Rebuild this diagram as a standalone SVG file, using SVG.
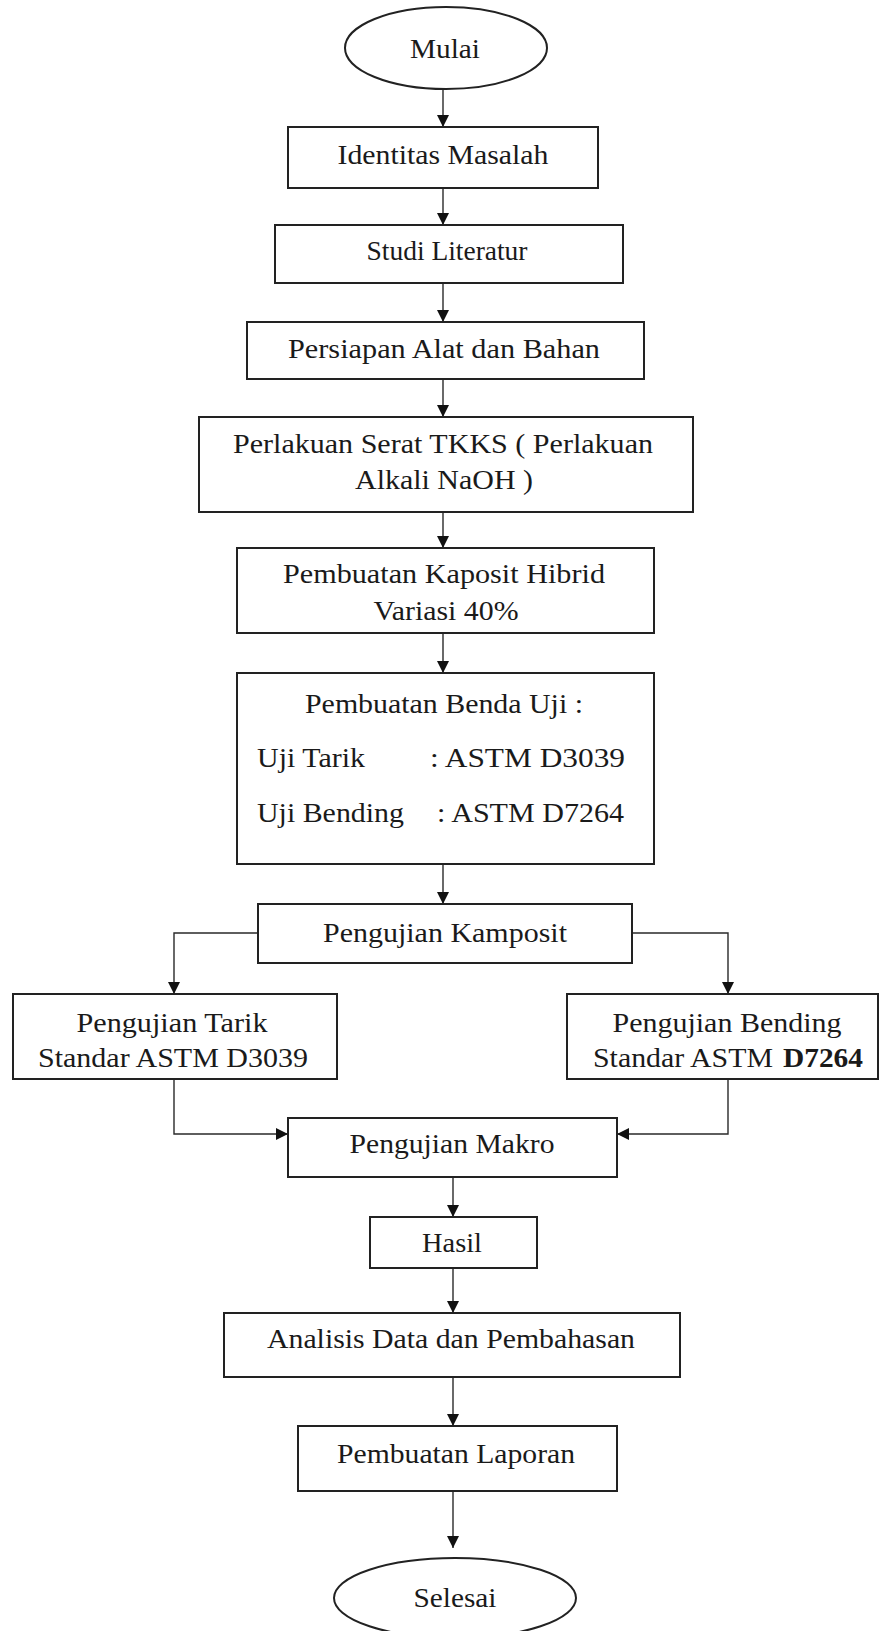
<svg xmlns="http://www.w3.org/2000/svg" width="880" height="1631" viewBox="0 0 880 1631">
<style>
.box{fill:#ffffff;stroke:#222;stroke-width:2}
.t{font-family:"Liberation Serif","Times New Roman",serif;font-size:28px;fill:#1a1a1a;text-anchor:middle}
.tl{font-family:"Liberation Serif","Times New Roman",serif;font-size:28px;fill:#1a1a1a}
.c{fill:none;stroke:#2a2a2a;stroke-width:1.4}
</style>
<defs>
<marker id="ah" viewBox="0 0 12 12" refX="12" refY="6" markerWidth="12" markerHeight="12" markerUnits="userSpaceOnUse" orient="auto">
<path d="M0,0 L12,6 L0,12 Z" fill="#111"/>
</marker>
</defs>
<rect width="880" height="1631" fill="#ffffff"/>
<g id="connectors">
<line class="c" x1="443" y1="89" x2="443" y2="127" marker-end="url(#ah)"/>
<line class="c" x1="443" y1="188" x2="443" y2="225" marker-end="url(#ah)"/>
<line class="c" x1="443" y1="283" x2="443" y2="322" marker-end="url(#ah)"/>
<line class="c" x1="443" y1="379" x2="443" y2="417" marker-end="url(#ah)"/>
<line class="c" x1="443" y1="512" x2="443" y2="548" marker-end="url(#ah)"/>
<line class="c" x1="443" y1="633" x2="443" y2="673" marker-end="url(#ah)"/>
<line class="c" x1="443" y1="864" x2="443" y2="904" marker-end="url(#ah)"/>
<polyline class="c" points="258,933 174,933 174,994" marker-end="url(#ah)"/>
<polyline class="c" points="632,933 728,933 728,994" marker-end="url(#ah)"/>
<polyline class="c" points="174,1079 174,1134 288,1134" marker-end="url(#ah)"/>
<polyline class="c" points="728,1079 728,1134 617,1134" marker-end="url(#ah)"/>
<line class="c" x1="453" y1="1177" x2="453" y2="1217" marker-end="url(#ah)"/>
<line class="c" x1="453" y1="1268" x2="453" y2="1313" marker-end="url(#ah)"/>
<line class="c" x1="453" y1="1377" x2="453" y2="1426" marker-end="url(#ah)"/>
<line class="c" x1="453" y1="1491" x2="453" y2="1548" marker-end="url(#ah)"/>
</g>
<g id="mulai">
<ellipse class="box" cx="446" cy="48" rx="101" ry="41"/>
<text class="t" x="445" y="58" textLength="70" lengthAdjust="spacingAndGlyphs">Mulai</text>
</g>
<g id="identitas">
<rect class="box" x="288" y="127" width="310" height="61"/>
<text class="t" x="443" y="164" textLength="211" lengthAdjust="spacingAndGlyphs">Identitas Masalah</text>
</g>
<g id="studi">
<rect class="box" x="275" y="225" width="348" height="58"/>
<text class="t" x="447" y="260" textLength="161" lengthAdjust="spacingAndGlyphs">Studi Literatur</text>
</g>
<g id="persiapan">
<rect class="box" x="247" y="322" width="397" height="57"/>
<text class="t" x="444" y="358" textLength="312" lengthAdjust="spacingAndGlyphs">Persiapan Alat dan Bahan</text>
</g>
<g id="perlakuan">
<rect class="box" x="199" y="417" width="494" height="95"/>
<text class="t" x="443" y="453" textLength="420" lengthAdjust="spacingAndGlyphs">Perlakuan Serat TKKS ( Perlakuan</text>
<text class="t" x="444" y="489" textLength="178" lengthAdjust="spacingAndGlyphs">Alkali NaOH )</text>
</g>
<g id="kaposit">
<rect class="box" x="237" y="548" width="417" height="85"/>
<text class="t" x="444" y="583" textLength="322" lengthAdjust="spacingAndGlyphs">Pembuatan Kaposit Hibrid</text>
<text class="t" x="446" y="620" textLength="145" lengthAdjust="spacingAndGlyphs">Variasi 40%</text>
</g>
<g id="benda-uji">
<rect class="box" x="237" y="673" width="417" height="191"/>
<text class="t" x="444" y="713" textLength="278" lengthAdjust="spacingAndGlyphs">Pembuatan Benda Uji :</text>
<text class="tl" x="257" y="767" textLength="108" lengthAdjust="spacingAndGlyphs">Uji Tarik</text>
<text class="tl" x="430" y="767" textLength="195" lengthAdjust="spacingAndGlyphs">: ASTM D3039</text>
<text class="tl" x="257" y="822" textLength="147" lengthAdjust="spacingAndGlyphs">Uji Bending</text>
<text class="tl" x="437" y="822" textLength="187" lengthAdjust="spacingAndGlyphs">: ASTM D7264</text>
</g>
<g id="kamposit">
<rect class="box" x="258" y="904" width="374" height="59"/>
<text class="t" x="445" y="942" textLength="244" lengthAdjust="spacingAndGlyphs">Pengujian Kamposit</text>
</g>
<g id="tarik">
<rect class="box" x="13" y="994" width="324" height="85"/>
<text class="t" x="172" y="1032" textLength="191" lengthAdjust="spacingAndGlyphs">Pengujian Tarik</text>
<text class="t" x="173" y="1067" textLength="270" lengthAdjust="spacingAndGlyphs">Standar ASTM D3039</text>
</g>
<g id="bending">
<rect class="box" x="567" y="994" width="311" height="85"/>
<text class="t" x="727" y="1032" textLength="229" lengthAdjust="spacingAndGlyphs">Pengujian Bending</text>
<text class="tl" x="593" y="1067" textLength="180" lengthAdjust="spacingAndGlyphs">Standar ASTM</text>
<text class="tl" x="783" y="1067" font-weight="bold" textLength="80" lengthAdjust="spacingAndGlyphs">D7264</text>
</g>
<g id="makro">
<rect class="box" x="288" y="1118" width="329" height="59"/>
<text class="t" x="452" y="1153" textLength="205" lengthAdjust="spacingAndGlyphs">Pengujian Makro</text>
</g>
<g id="hasil">
<rect class="box" x="370" y="1217" width="167" height="51"/>
<text class="t" x="452" y="1252" textLength="60" lengthAdjust="spacingAndGlyphs">Hasil</text>
</g>
<g id="analisis">
<rect class="box" x="224" y="1313" width="456" height="64"/>
<text class="t" x="451" y="1348" textLength="368" lengthAdjust="spacingAndGlyphs">Analisis Data dan Pembahasan</text>
</g>
<g id="laporan">
<rect class="box" x="298" y="1426" width="319" height="65"/>
<text class="t" x="456" y="1463" textLength="238" lengthAdjust="spacingAndGlyphs">Pembuatan Laporan</text>
</g>
<g id="selesai">
<ellipse class="box" cx="455" cy="1598" rx="121" ry="40"/>
<text class="t" x="455" y="1607" textLength="83" lengthAdjust="spacingAndGlyphs">Selesai</text>
</g>
</svg>
